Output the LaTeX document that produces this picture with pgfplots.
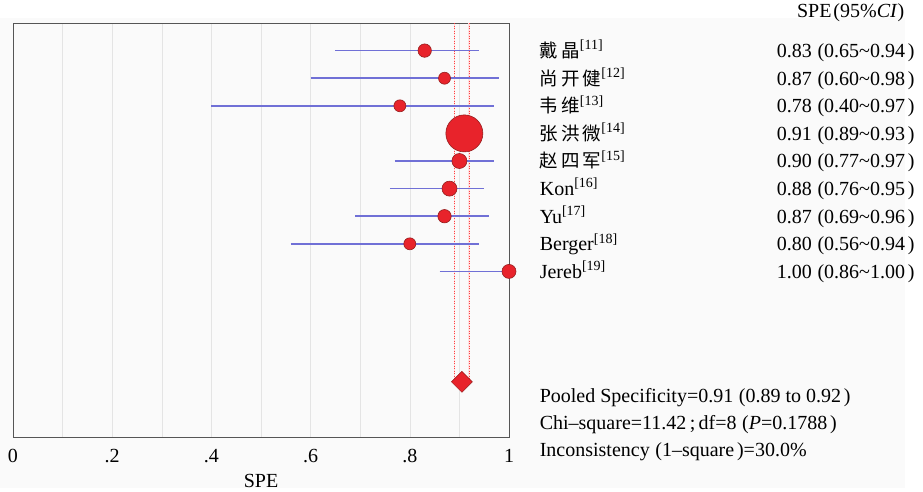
\documentclass[border=0pt]{standalone}
\usepackage{fontspec}
\setmainfont{Liberation Serif}
\newfontfamily\cjk{Noto Sans CJK SC}
\usepackage{pgfplots}
\pgfplotsset{compat=1.18}

\definecolor{dotred}{RGB}{232,35,43}
\definecolor{dotedge}{RGB}{150,30,30}
\definecolor{cibar}{RGB}{112,112,214}
\definecolor{gridgray}{RGB}{228,228,228}
\definecolor{framegray}{RGB}{85,85,85}
\definecolor{bggray}{RGB}{250,250,250}

\newcommand{\txt}{\fontsize{20}{24}\selectfont}
\newcommand{\zh}[1]{{\fontsize{18.5}{22}\selectfont\cjk #1}}
\newcommand{\lp}{\hspace{0.28em}(}
\newcommand{\rp}{\hspace{0.14em})}
\newcommand{\ci}[3]{#1\lp#2\textasciitilde#3\rp}

\pgfplotsset{
  study/.style={only marks, mark=*, mark size=#1,
    mark options={draw=dotedge, fill=dotred, line width=0.6pt}},
  cil/.style={cibar, line width=1.5pt, mark=none},
}

\begin{document}
\begin{tikzpicture}
\useasboundingbox (-13pt,-54pt) rectangle (910pt,437pt);
\fill[bggray] (-13pt,-51pt) rectangle (892pt,419pt);
\begin{axis}[
  at={(0pt,0pt)}, anchor=south west,
  width=496pt, height=414pt, scale only axis,
  xmin=0, xmax=1, ymin=0, ymax=15, y dir=reverse,
  axis background/.style={fill=bggray},
  axis line style={framegray, line width=0.8pt},
  xtick={0,0.2,0.4,0.6,0.8,1},
  xticklabels={0,.2,.4,.6,.8,1},
  minor xtick={0.1,0.3,0.5,0.7,0.9},
  ytick=\empty,
  major tick length=0pt, minor tick length=0pt,
  xmajorgrids, xminorgrids,
  major grid style={gridgray, line width=0.6pt},
  minor grid style={gridgray, line width=0.6pt},
  xticklabel style={font=\txt, anchor=base, yshift=-25pt},
  xlabel={SPE},
  xlabel style={font=\txt, at={(axis description cs:0.5,0)}, anchor=base, yshift=-50pt},
  clip=false,
]
% pooled CI limits
\addplot[red!12, line width=1.8pt] coordinates {(0.89,0) (0.89,13)};
\addplot[red!75, dash pattern=on 1pt off 1.5pt, line width=0.5pt] coordinates {(0.89,0) (0.89,13)};
\addplot[red!12, line width=1.8pt] coordinates {(0.92,0) (0.92,13)};
\addplot[red!75, dash pattern=on 1pt off 1.5pt, line width=0.5pt] coordinates {(0.92,0) (0.92,13)};

% study estimates (marker radius ~ weight)
\addplot[study=6.7]  coordinates {(0.83,1)};
\addplot[study=6]    coordinates {(0.87,2)};
\addplot[study=6]    coordinates {(0.78,3)};
\addplot[study=18.5] coordinates {(0.91,4)};
\addplot[study=7.5]  coordinates {(0.90,5)};
\addplot[study=7.5]  coordinates {(0.88,6)};
\addplot[study=6.7]  coordinates {(0.87,7)};
\addplot[study=6]    coordinates {(0.80,8)};
\addplot[study=7]    coordinates {(1.00,9)};

% 95% confidence intervals
\addplot[cil] coordinates {(0.65,1) (0.94,1)};
\addplot[cil] coordinates {(0.60,2) (0.98,2)};
\addplot[cil] coordinates {(0.40,3) (0.97,3)};
\addplot[cil] coordinates {(0.89,4) (0.93,4)};
\addplot[cil] coordinates {(0.77,5) (0.97,5)};
\addplot[cil] coordinates {(0.76,6) (0.95,6)};
\addplot[cil] coordinates {(0.69,7) (0.96,7)};
\addplot[cil] coordinates {(0.56,8) (0.94,8)};
\addplot[cil] coordinates {(0.86,9) (1.00,9)};

% pooled estimate
\addplot[only marks, mark=square*, mark size=7.4,
  mark options={rotate=45, draw=dotedge, fill=dotred, line width=0.5pt}]
  coordinates {(0.905,13)};

% right-hand text
\node[anchor=base east, font=\txt] at (axis cs:1.804,-0.2) {SPE\hspace{0.1em}(95\%\textit{CI})};

\node[anchor=base west, font=\txt] at (axis cs:1.055,1.25) {\zh{戴\,晶}\textsuperscript{[11]}};
\node[anchor=base west, font=\txt] at (axis cs:1.055,2.25) {\zh{尚\,开\,健}\textsuperscript{[12]}};
\node[anchor=base west, font=\txt] at (axis cs:1.055,3.25) {\zh{韦\,维}\textsuperscript{[13]}};
\node[anchor=base west, font=\txt] at (axis cs:1.055,4.25) {\zh{张\,洪\,微}\textsuperscript{[14]}};
\node[anchor=base west, font=\txt] at (axis cs:1.055,5.25) {\zh{赵\,四\,军}\textsuperscript{[15]}};
\node[anchor=base west, font=\txt] at (axis cs:1.055,6.25) {Kon\textsuperscript{[16]}};
\node[anchor=base west, font=\txt] at (axis cs:1.055,7.25) {Yu\textsuperscript{[17]}};
\node[anchor=base west, font=\txt] at (axis cs:1.055,8.25) {Berger\textsuperscript{[18]}};
\node[anchor=base west, font=\txt] at (axis cs:1.055,9.25) {Jereb\textsuperscript{[19]}};

\node[anchor=base east, font=\txt] at (axis cs:1.8246,1.25) {\ci{0.83}{0.65}{0.94}};
\node[anchor=base east, font=\txt] at (axis cs:1.8246,2.25) {\ci{0.87}{0.60}{0.98}};
\node[anchor=base east, font=\txt] at (axis cs:1.8246,3.25) {\ci{0.78}{0.40}{0.97}};
\node[anchor=base east, font=\txt] at (axis cs:1.8246,4.25) {\ci{0.91}{0.89}{0.93}};
\node[anchor=base east, font=\txt] at (axis cs:1.8246,5.25) {\ci{0.90}{0.77}{0.97}};
\node[anchor=base east, font=\txt] at (axis cs:1.8246,6.25) {\ci{0.88}{0.76}{0.95}};
\node[anchor=base east, font=\txt] at (axis cs:1.8246,7.25) {\ci{0.87}{0.69}{0.96}};
\node[anchor=base east, font=\txt] at (axis cs:1.8246,8.25) {\ci{0.80}{0.56}{0.94}};
\node[anchor=base east, font=\txt] at (axis cs:1.8246,9.25) {\ci{1.00}{0.86}{1.00}};

\node[anchor=base west, font=\txt] at (axis cs:1.055,13.75) {Pooled Specificity=0.91\lp0.89 to 0.92\rp};
\node[anchor=base west, font=\txt] at (axis cs:1.055,14.73) {Chi\textendash square=11.42\,;\,df=8\lp\textit{P}=0.1788\rp};
\node[anchor=base west, font=\txt] at (axis cs:1.055,15.71) {Inconsistency\lp1\textendash square\rp=30.0\%};
\end{axis}
\end{tikzpicture}
\end{document}
